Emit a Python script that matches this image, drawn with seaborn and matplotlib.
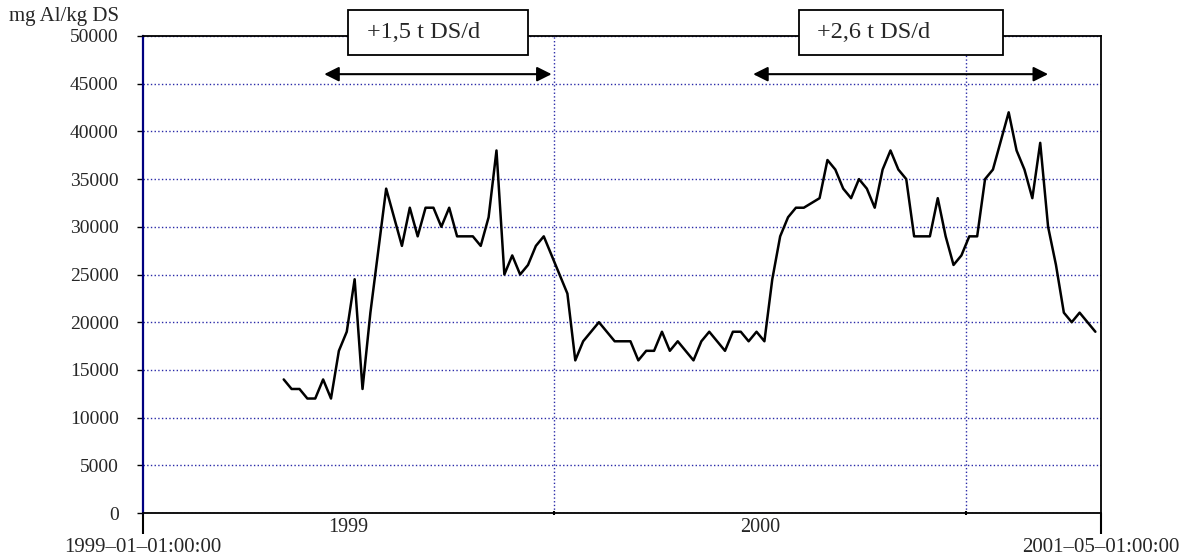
import pandas as pd
import numpy as np
import matplotlib.pyplot as plt
import matplotlib.dates as mdates
import matplotlib.transforms as mtransforms
import seaborn as sns
from matplotlib.patches import Rectangle

# weekly aluminium content of the sludge, mg Al/kg DS
start_date = '1999-05-06'
al_values = [
    14000, 13000, 13000, 12000, 12000, 14000, 12000, 17000, 19000, 24500,
    13000, 21000, 27500, 34000, 31000, 28000, 32000, 29000, 32000, 32000,
    30000, 32000, 29000, 29000, 29000, 28000, 31000, 38000, 25000, 27000,
    25000, 26000, 28000, 29000, 27000, 25000, 23000, 16000, 18000, 19000,
    20000, 19000, 18000, 18000, 18000, 16000, 17000, 17000, 19000, 17000,
    18000, 17000, 16000, 18000, 19000, 18000, 17000, 19000, 19000, 18000,
    19000, 18000, 24500, 29000, 31000, 32000, 32000, 32500, 33000, 37000,
    36000, 34000, 33000, 35000, 34000, 32000, 36000, 38000, 36000, 35000,
    29000, 29000, 29000, 33000, 29000, 26000, 27000, 29000, 29000, 35000,
    36000, 39000, 42000, 38000, 36000, 33000, 38800, 30000, 26000, 21000,
    20000, 21000, 20000, 19000,
]
dates = pd.date_range(start_date, periods=len(al_values), freq='7D')

y_ticks = list(range(0, 50001, 5000))
x_limits = ['1999-01-01', '2001-05-01']
x_end_labels = ['1999\u201301\u201301:00:00', '2001\u201305\u201301:00:00']
year_gridlines = ['2000-01-01', '2001-01-01']
year_labels = ['1999', '2000']
year_label_dates = ['1999-07-02', '2000-07-02']

dose_labels = ['+1,5 t DS/d', '+2,6 t DS/d']
dose_starts = ['1999-06-11', '2000-06-26']
dose_ends = ['1999-12-30', '2001-03-15']
arrow_level = 46000

sns.set_style('white')
plt.rcParams['font.family'] = ['Liberation Serif', 'DejaVu Serif']

fig = plt.figure(figsize=(11.88, 5.56), dpi=100)
ax = fig.add_axes([143 / 1188, 43 / 556, 958 / 1188, 477 / 556])

df = pd.DataFrame({'date': dates, 'value': al_values})
sns.lineplot(data=df, x='date', y='value', ax=ax, color='black', linewidth=1.8)

to_num = lambda d: mdates.date2num(pd.Timestamp(d))

ax.set_xlim(to_num(x_limits[0]), to_num(x_limits[1]))
ax.set_ylim(0, 50000)
ax.set_xlabel('')
ax.set_ylabel('')

ax.set_yticks(y_ticks)
ax.set_yticklabels([str(v) for v in y_ticks])
ax.set_xticks([to_num(d) for d in x_limits])
ax.set_xticklabels(x_end_labels)
ax.set_xticks([to_num(d) for d in year_gridlines], minor=True)

ax.tick_params(axis='y', left=True, length=4.5, width=1, color='black',
               pad=13, labelsize=14)
ax.tick_params(axis='x', which='major', bottom=True, length=15, width=1.5,
               color='black', pad=3, labelsize=15)
ax.tick_params(axis='x', which='minor', bottom=True, length=3, width=1.5,
               direction='inout', color='black')

grid_color = '#2a2aa8'
ax.yaxis.grid(True, linestyle=':', color=grid_color, linewidth=1.0)
ax.xaxis.grid(False, which='major')
ax.xaxis.grid(True, which='minor', linestyle=':', color=grid_color, linewidth=1.0)

for side in ['top', 'right', 'bottom']:
    ax.spines[side].set_color('black')
    ax.spines[side].set_linewidth(1.3)
ax.spines['left'].set_color('#000080')
ax.spines['left'].set_linewidth(1.6)

# year names in the middle of each year
blend = mtransforms.blended_transform_factory(ax.transData, ax.transAxes)
for label, d in zip(year_labels, year_label_dates):
    ax.text(to_num(d), -0.031, label, transform=blend, ha='center', va='center',
            fontsize=14.5)

fig.text(119 / 1188, 1 - 16 / 556, 'mg Al/kg DS', ha='right', va='center',
         fontsize=15)

# dosing periods
for s, e in zip(dose_starts, dose_ends):
    ax.annotate('', xy=(to_num(e), arrow_level), xytext=(to_num(s), arrow_level),
                arrowprops=dict(arrowstyle='<|-|>', color='black', lw=1.5,
                                mutation_scale=22, shrinkA=0, shrinkB=0))

box_x = [(0.214, 0.402), (0.685, 0.898)]
text_x = [0.2338, 0.7035]
for (x0, x1), tx, label in zip(box_x, text_x, dose_labels):
    ax.add_patch(Rectangle((x0, 0.960), x1 - x0, 0.0945, transform=ax.transAxes,
                           facecolor='white', edgecolor='black', linewidth=1.3,
                           clip_on=False, zorder=5))
    ax.text(tx, 1.007, label, transform=ax.transAxes, ha='left', va='center',
            fontsize=17.5, zorder=6)

fig.savefig('out.png', dpi=100)
